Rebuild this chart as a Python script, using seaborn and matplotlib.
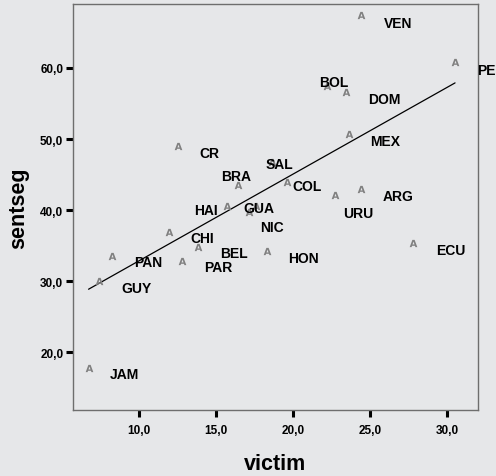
import matplotlib
matplotlib.use("Agg")
import matplotlib.pyplot as plt
import seaborn as sns
import pandas as pd

# ---- data ----
countries = ["VEN", "PER", "BOL", "DOM", "MEX", "CR", "SAL", "COL", "BRA", "HAI", "GUA",
             "NIC", "CHI", "BEL", "PAN", "PAR", "GUY", "HON", "ARG", "URU", "ECU", "JAM"]
victim = [24.4, 30.5, 22.2, 23.4, 23.6, 12.5, 18.6, 19.6, 16.4, 15.7, 17.1,
          17.6, 11.9, 13.8, 8.2, 12.8, 7.4, 18.3, 24.4, 22.7, 27.8, 6.7]
sentseg = [67.4, 60.8, 57.4, 56.6, 50.7, 49.0, 46.8, 43.9, 43.6, 40.6, 39.7,
           40.6, 37.0, 34.8, 33.6, 32.9, 30.1, 34.3, 43.0, 42.1, 35.4, 17.8]
x_ticks = [10, 15, 20, 25, 30]
y_ticks = [20, 30, 40, 50, 60]
x_tick_labels = ["10,0", "15,0", "20,0", "25,0", "30,0"]
y_tick_labels = ["20,0", "30,0", "40,0", "50,0", "60,0"]

# ---- layout: label offsets in pixels (dx right, dy down, to cap centre) ----
label_offsets = {
    "VEN": (22.6, 6.3), "PER": (22, 7), "BOL": (-8, -5.3), "DOM": (22, 5.7),
    "MEX": (21.7, 6), "CR": (21.7, 5.7), "SAL": (-6, 1), "COL": (5.6, 2.7),
    "BRA": (-17.3, -9.3), "HAI": (-33.4, 2.6), "GUA": (-5.7, -5.6), "NIC": (3.7, 19.6),
    "CHI": (21.3, 5.4), "BEL": (22.3, 5), "PAN": (22, 5), "PAR": (21.6, 5.7),
    "GUY": (22.4, 6), "HON": (21.3, 6.3), "ARG": (22, 6), "URU": (8, 16.7),
    "ECU": (22.3, 6), "JAM": (21.7, 5),
}

df = pd.DataFrame({"country": countries, "victim": victim, "sentseg": sentseg})

BG = "#e6e7e9"
NARROW = ["Liberation Sans Narrow", "Liberation Sans", "DejaVu Sans"]
SANS = ["Liberation Sans", "DejaVu Sans"]

sns.set_style("white")
plt.rcParams["font.family"] = SANS
plt.rcParams["text.color"] = "black"
plt.rcParams["axes.labelcolor"] = "black"

fig = plt.figure(figsize=(4.96, 4.77), dpi=100, facecolor=BG)
ax = fig.add_axes([73 / 496, 1 - 411 / 477, (478 - 73) / 496, (411 - 5) / 477])
ax.set_facecolor(BG)

sns.regplot(data=df, x="victim", y="sentseg", scatter=False, ci=None, truncate=True,
            line_kws=dict(color="black", lw=0.9), ax=ax)
sns.scatterplot(data=df, x="victim", y="sentseg", marker=r"$\mathbf{A}$", s=30,
                color="#808080", linewidth=0, ax=ax, zorder=3)

cap_half = 5.0
for c, xv, yv in zip(countries, victim, sentseg):
    dx, dy = label_offsets[c]
    ax.annotate(c, (xv, yv), xytext=(dx, -(dy + cap_half)), textcoords="offset pixels",
                ha="left", va="baseline", fontsize=10, fontweight="bold",
                family=NARROW, color="black", zorder=4)

ax.set_xlim(5.69, 31.99)
ax.set_ylim(11.9, 69.0)
ax.set_xticks(x_ticks)
ax.set_xticklabels(x_tick_labels)
ax.set_yticks(y_ticks)
ax.set_yticklabels(y_tick_labels)
ax.tick_params(axis="both", which="major", bottom=True, left=True, top=False, right=False,
               direction="out", length=5, width=2.2, color="black",
               labelsize=8.5, labelcolor="black")
ax.tick_params(axis="x", pad=5)
ax.tick_params(axis="y", pad=2)
for lab in ax.get_xticklabels() + ax.get_yticklabels():
    lab.set_fontweight("bold")

for side in ["left", "bottom", "top", "right"]:
    ax.spines[side].set_visible(True)
    ax.spines[side].set_color("#6e6e6e")
    ax.spines[side].set_linewidth(1.0)

ax.set_xlabel("victim", fontsize=15.5, fontweight="bold", family=NARROW, labelpad=12)
ax.set_ylabel("sentseg", fontsize=15.5, fontweight="bold", family=NARROW, labelpad=8)

fig.savefig("out.png", dpi=100, facecolor=BG)
